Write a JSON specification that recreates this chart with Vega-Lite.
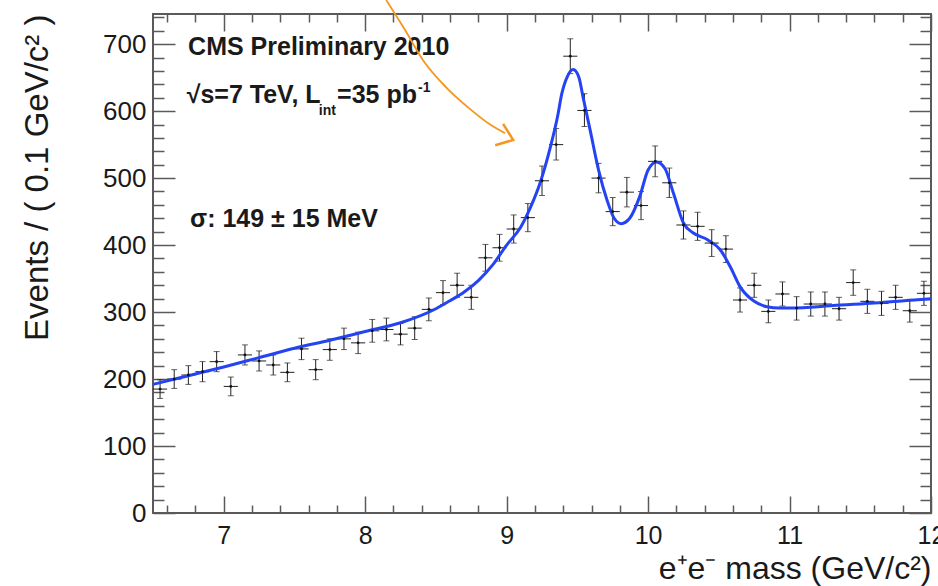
{
  "$schema": "https://vega.github.io/schema/vega-lite/v6.json",
  "width": 778,
  "height": 499,
  "autosize": {"type": "none"},
  "padding": {"left": 153, "top": 14, "right": 7, "bottom": 73},
  "background": "white",
  "config": {
    "view": {"stroke": "#5a5a5a", "strokeWidth": 2},
    "axis": {
      "labelFont": "Liberation Sans",
      "labelFontSize": 26,
      "labelColor": "#1a1a1a",
      "titleFont": "Liberation Sans",
      "titleColor": "#1a1a1a",
      "titleFontWeight": "normal",
      "tickColor": "#5a5a5a",
      "tickWidth": 1.5,
      "domain": false,
      "grid": false,
      "labelOverlap": false,
      "labelFlush": false
    },
    "text": {"font": "Liberation Sans"}
  },
  "datasets": {
    "pts": [
      {"x": 6.55, "y": 185, "lo": 171, "hi": 199, "xlo": 6.5, "xhi": 6.6},
      {"x": 6.65, "y": 200, "lo": 186, "hi": 214, "xlo": 6.6, "xhi": 6.7},
      {"x": 6.75, "y": 206, "lo": 192, "hi": 220, "xlo": 6.7, "xhi": 6.8},
      {"x": 6.85, "y": 211, "lo": 196, "hi": 226, "xlo": 6.8, "xhi": 6.9},
      {"x": 6.95, "y": 226, "lo": 211, "hi": 241, "xlo": 6.9, "xhi": 7.0},
      {"x": 7.05, "y": 189, "lo": 175, "hi": 203, "xlo": 7.0, "xhi": 7.1},
      {"x": 7.15, "y": 236, "lo": 221, "hi": 251, "xlo": 7.1, "xhi": 7.2},
      {"x": 7.25, "y": 227, "lo": 212, "hi": 242, "xlo": 7.2, "xhi": 7.3},
      {"x": 7.35, "y": 221, "lo": 206, "hi": 236, "xlo": 7.3, "xhi": 7.4},
      {"x": 7.45, "y": 210, "lo": 196, "hi": 224, "xlo": 7.4, "xhi": 7.5},
      {"x": 7.55, "y": 245, "lo": 229, "hi": 261, "xlo": 7.5, "xhi": 7.6},
      {"x": 7.65, "y": 214, "lo": 199, "hi": 229, "xlo": 7.6, "xhi": 7.7},
      {"x": 7.75, "y": 244, "lo": 228, "hi": 260, "xlo": 7.7, "xhi": 7.8},
      {"x": 7.85, "y": 260, "lo": 244, "hi": 276, "xlo": 7.8, "xhi": 7.9},
      {"x": 7.95, "y": 254, "lo": 238, "hi": 270, "xlo": 7.9, "xhi": 8.0},
      {"x": 8.05, "y": 272, "lo": 255, "hi": 289, "xlo": 8.0, "xhi": 8.1},
      {"x": 8.15, "y": 274, "lo": 257, "hi": 291, "xlo": 8.1, "xhi": 8.2},
      {"x": 8.25, "y": 267, "lo": 251, "hi": 283, "xlo": 8.2, "xhi": 8.3},
      {"x": 8.35, "y": 276, "lo": 259, "hi": 293, "xlo": 8.3, "xhi": 8.4},
      {"x": 8.45, "y": 304, "lo": 287, "hi": 321, "xlo": 8.4, "xhi": 8.5},
      {"x": 8.55, "y": 329, "lo": 311, "hi": 347, "xlo": 8.5, "xhi": 8.6},
      {"x": 8.65, "y": 340, "lo": 322, "hi": 358, "xlo": 8.6, "xhi": 8.7},
      {"x": 8.75, "y": 322, "lo": 304, "hi": 340, "xlo": 8.7, "xhi": 8.8},
      {"x": 8.85, "y": 381, "lo": 361, "hi": 401, "xlo": 8.8, "xhi": 8.9},
      {"x": 8.95, "y": 396, "lo": 376, "hi": 416, "xlo": 8.9, "xhi": 9.0},
      {"x": 9.05, "y": 424, "lo": 403, "hi": 445, "xlo": 9.0, "xhi": 9.1},
      {"x": 9.15, "y": 441, "lo": 420, "hi": 462, "xlo": 9.1, "xhi": 9.2},
      {"x": 9.25, "y": 496, "lo": 474, "hi": 518, "xlo": 9.2, "xhi": 9.3},
      {"x": 9.35, "y": 550, "lo": 527, "hi": 574, "xlo": 9.3, "xhi": 9.4},
      {"x": 9.45, "y": 682, "lo": 656, "hi": 708, "xlo": 9.4, "xhi": 9.5},
      {"x": 9.55, "y": 601, "lo": 577, "hi": 626, "xlo": 9.5, "xhi": 9.6},
      {"x": 9.65, "y": 500, "lo": 478, "hi": 522, "xlo": 9.6, "xhi": 9.7},
      {"x": 9.75, "y": 450, "lo": 429, "hi": 471, "xlo": 9.7, "xhi": 9.8},
      {"x": 9.85, "y": 479, "lo": 457, "hi": 501, "xlo": 9.8, "xhi": 9.9},
      {"x": 9.95, "y": 459, "lo": 438, "hi": 480, "xlo": 9.9, "xhi": 10.0},
      {"x": 10.05, "y": 525, "lo": 502, "hi": 548, "xlo": 10.0, "xhi": 10.1},
      {"x": 10.15, "y": 493, "lo": 471, "hi": 515, "xlo": 10.1, "xhi": 10.2},
      {"x": 10.25, "y": 430, "lo": 409, "hi": 451, "xlo": 10.2, "xhi": 10.3},
      {"x": 10.35, "y": 428, "lo": 407, "hi": 449, "xlo": 10.3, "xhi": 10.4},
      {"x": 10.45, "y": 403, "lo": 383, "hi": 423, "xlo": 10.4, "xhi": 10.5},
      {"x": 10.55, "y": 394, "lo": 374, "hi": 414, "xlo": 10.5, "xhi": 10.6},
      {"x": 10.65, "y": 318, "lo": 300, "hi": 336, "xlo": 10.6, "xhi": 10.7},
      {"x": 10.75, "y": 340, "lo": 322, "hi": 358, "xlo": 10.7, "xhi": 10.8},
      {"x": 10.85, "y": 301, "lo": 284, "hi": 318, "xlo": 10.8, "xhi": 10.9},
      {"x": 10.95, "y": 327, "lo": 309, "hi": 345, "xlo": 10.9, "xhi": 11.0},
      {"x": 11.05, "y": 306, "lo": 288, "hi": 323, "xlo": 11.0, "xhi": 11.1},
      {"x": 11.15, "y": 312, "lo": 294, "hi": 330, "xlo": 11.1, "xhi": 11.2},
      {"x": 11.25, "y": 312, "lo": 294, "hi": 330, "xlo": 11.2, "xhi": 11.3},
      {"x": 11.35, "y": 305, "lo": 288, "hi": 322, "xlo": 11.3, "xhi": 11.4},
      {"x": 11.45, "y": 344, "lo": 325, "hi": 363, "xlo": 11.4, "xhi": 11.5},
      {"x": 11.55, "y": 316, "lo": 298, "hi": 334, "xlo": 11.5, "xhi": 11.6},
      {"x": 11.65, "y": 313, "lo": 295, "hi": 331, "xlo": 11.6, "xhi": 11.7},
      {"x": 11.75, "y": 322, "lo": 304, "hi": 340, "xlo": 11.7, "xhi": 11.8},
      {"x": 11.85, "y": 302, "lo": 285, "hi": 319, "xlo": 11.8, "xhi": 11.9},
      {"x": 11.95, "y": 328, "lo": 310, "hi": 346, "xlo": 11.9, "xhi": 12.0}
    ],
    "fit": [
      {"x": 6.5, "y": 192}, {"x": 6.75, "y": 205}, {"x": 7.0, "y": 218},
      {"x": 7.25, "y": 232}, {"x": 7.5, "y": 246}, {"x": 7.75, "y": 258},
      {"x": 8.0, "y": 271}, {"x": 8.25, "y": 284}, {"x": 8.5, "y": 305},
      {"x": 8.6, "y": 317}, {"x": 8.7, "y": 330}, {"x": 8.8, "y": 347},
      {"x": 8.9, "y": 370}, {"x": 9.0, "y": 400}, {"x": 9.1, "y": 427},
      {"x": 9.17, "y": 457}, {"x": 9.24, "y": 495}, {"x": 9.31, "y": 547},
      {"x": 9.36, "y": 592}, {"x": 9.39, "y": 626}, {"x": 9.43, "y": 652},
      {"x": 9.47, "y": 662}, {"x": 9.51, "y": 651}, {"x": 9.54, "y": 621},
      {"x": 9.59, "y": 572}, {"x": 9.65, "y": 512}, {"x": 9.71, "y": 467},
      {"x": 9.76, "y": 440}, {"x": 9.81, "y": 432}, {"x": 9.87, "y": 440},
      {"x": 9.94, "y": 472}, {"x": 10.0, "y": 512}, {"x": 10.06, "y": 524},
      {"x": 10.12, "y": 514}, {"x": 10.18, "y": 477}, {"x": 10.25, "y": 433},
      {"x": 10.32, "y": 418}, {"x": 10.42, "y": 408}, {"x": 10.51, "y": 393},
      {"x": 10.58, "y": 368}, {"x": 10.65, "y": 338}, {"x": 10.75, "y": 316},
      {"x": 10.84, "y": 308}, {"x": 10.93, "y": 306}, {"x": 11.0, "y": 306},
      {"x": 11.33, "y": 310}, {"x": 11.57, "y": 313}, {"x": 11.81, "y": 317},
      {"x": 12.0, "y": 320}
    ],
    "arrow": [
      {"part": "shaft", "o": 1, "x": 8.148, "y": 766},
      {"part": "shaft", "o": 2, "x": 8.282, "y": 721},
      {"part": "shaft", "o": 3, "x": 8.409, "y": 676},
      {"part": "shaft", "o": 4, "x": 8.579, "y": 634},
      {"part": "shaft", "o": 5, "x": 8.742, "y": 603},
      {"part": "shaft", "o": 6, "x": 8.883, "y": 580},
      {"part": "shaft", "o": 7, "x": 8.989, "y": 567},
      {"part": "head", "o": 1, "x": 8.975, "y": 581},
      {"part": "head", "o": 2, "x": 9.046, "y": 557},
      {"part": "head", "o": 3, "x": 8.919, "y": 549}
    ],
    "bigtext": [
      {"x": 6.748, "y": 683.5, "t": "CMS Preliminary 2010"},
      {"x": 6.738, "y": 611.5, "t": "√s=7 TeV, L"},
      {"x": 7.801, "y": 611.5, "t": "=35 pb"},
      {"x": 6.762, "y": 427.5, "t": "σ: 149 ± 15 MeV"}
    ],
    "smalltext": [
      {"x": 7.672, "y": 594, "t": "int"},
      {"x": 8.374, "y": 629, "t": "-1"}
    ]
  },
  "resolve": {"axis": {"x": "independent", "y": "independent"}},
  "layer": [
    {
      "data": {"name": "pts"},
      "mark": {"type": "rule", "color": "#222", "strokeWidth": 1},
      "encoding": {
        "x": {"field": "x", "type": "quantitative",
          "scale": {"domain": [6.5, 12], "nice": false, "zero": false},
          "axis": {"orient": "bottom", "values": [7, 8, 9, 10, 11, 12], "ticks": false, "labelPadding": 10,
            "labelFontSize": 25,
            "title": "e⁺e⁻ mass (GeV/c²)", "titleAnchor": "end", "titleAlign": "right", "titleFontSize": 32, "titlePadding": 5}},
        "y": {"field": "lo", "type": "quantitative",
          "scale": {"domain": [0, 745], "nice": false, "zero": false},
          "axis": {"orient": "left", "values": [0, 100, 200, 300, 400, 500, 600, 700], "ticks": false, "labelPadding": 7,
            "title": "Events / ( 0.1 GeV/c² )", "titleAnchor": "end", "titleFontSize": 33, "titlePadding": 48}},
        "y2": {"field": "hi"}
      }
    },
    {
      "data": {"name": "pts"},
      "mark": {"type": "rule", "color": "#222", "strokeWidth": 1},
      "encoding": {
        "x": {"field": "xlo", "type": "quantitative",
          "axis": {"orient": "bottom", "values": [7, 8, 9, 10, 11, 12], "tickSize": -17, "labels": false, "title": null}},
        "x2": {"field": "xhi"},
        "y": {"field": "y", "type": "quantitative",
          "axis": {"orient": "left", "values": [0, 100, 200, 300, 400, 500, 600, 700], "tickSize": -22, "labels": false, "title": null}}
      }
    },
    {
      "data": {"name": "pts"},
      "mark": {"type": "tick", "orient": "horizontal", "color": "#222", "size": 6, "thickness": 1},
      "encoding": {
        "x": {"field": "x", "type": "quantitative",
          "axis": {"orient": "bottom", "values": [6.6, 6.8, 7.2, 7.4, 7.6, 7.8, 8.2, 8.4, 8.6, 8.8, 9.2, 9.4, 9.6, 9.8, 10.2, 10.4, 10.6, 10.8, 11.2, 11.4, 11.6, 11.8], "tickSize": -8, "labels": false, "title": null}},
        "y": {"field": "hi", "type": "quantitative",
          "axis": {"orient": "left", "values": [20, 40, 60, 80, 120, 140, 160, 180, 220, 240, 260, 280, 320, 340, 360, 380, 420, 440, 460, 480, 520, 540, 560, 580, 620, 640, 660, 680, 720, 740], "tickSize": -11, "labels": false, "title": null}}
      }
    },
    {
      "data": {"name": "pts"},
      "mark": {"type": "tick", "orient": "horizontal", "color": "#222", "size": 6, "thickness": 1},
      "encoding": {
        "x": {"field": "x", "type": "quantitative",
          "axis": {"orient": "top", "values": [7, 8, 9, 10, 11, 12], "tickSize": -17, "labels": false, "title": null}},
        "y": {"field": "lo", "type": "quantitative",
          "axis": {"orient": "right", "values": [0, 100, 200, 300, 400, 500, 600, 700], "tickSize": -22, "labels": false, "title": null}}
      }
    },
    {
      "data": {"name": "fit"},
      "mark": {"type": "line", "color": "#2443f2", "strokeWidth": 3, "interpolate": "monotone"},
      "encoding": {
        "x": {"field": "x", "type": "quantitative",
          "axis": {"orient": "top", "values": [6.6, 6.8, 7.2, 7.4, 7.6, 7.8, 8.2, 8.4, 8.6, 8.8, 9.2, 9.4, 9.6, 9.8, 10.2, 10.4, 10.6, 10.8, 11.2, 11.4, 11.6, 11.8], "tickSize": -8, "labels": false, "title": null}},
        "y": {"field": "y", "type": "quantitative",
          "axis": {"orient": "right", "values": [20, 40, 60, 80, 120, 140, 160, 180, 220, 240, 260, 280, 320, 340, 360, 380, 420, 440, 460, 480, 520, 540, 560, 580, 620, 640, 660, 680, 720, 740], "tickSize": -11, "labels": false, "title": null}}
      }
    },
    {
      "data": {"name": "pts"},
      "mark": {"type": "point", "filled": true, "color": "#111", "size": 8, "opacity": 1},
      "encoding": {
        "x": {"field": "x", "type": "quantitative", "axis": null},
        "y": {"field": "y", "type": "quantitative", "axis": null}
      }
    },
    {
      "data": {"name": "bigtext"},
      "mark": {"type": "text", "align": "left", "baseline": "alphabetic", "fontSize": 25, "fontWeight": "bold", "color": "#1a1a1a"},
      "encoding": {
        "x": {"field": "x", "type": "quantitative", "axis": null},
        "y": {"field": "y", "type": "quantitative", "axis": null},
        "text": {"field": "t"}
      }
    },
    {
      "data": {"name": "smalltext"},
      "mark": {"type": "text", "align": "left", "baseline": "alphabetic", "fontSize": 14, "fontWeight": "bold", "color": "#1a1a1a"},
      "encoding": {
        "x": {"field": "x", "type": "quantitative", "axis": null},
        "y": {"field": "y", "type": "quantitative", "axis": null},
        "text": {"field": "t"}
      }
    },
    {
      "data": {"name": "arrow"},
      "mark": {"type": "line", "color": "#f5961e", "strokeWidth": 1.8, "interpolate": "monotone", "clip": false},
      "transform": [{"filter": "datum.part === 'shaft'"}],
      "encoding": {
        "x": {"field": "x", "type": "quantitative", "axis": null},
        "y": {"field": "y", "type": "quantitative", "axis": null},
        "order": {"field": "o"}
      }
    },
    {
      "data": {"name": "arrow"},
      "mark": {"type": "line", "color": "#f5961e", "strokeWidth": 2.5, "clip": false},
      "transform": [{"filter": "datum.part === 'head'"}],
      "encoding": {
        "x": {"field": "x", "type": "quantitative", "axis": null},
        "y": {"field": "y", "type": "quantitative", "axis": null},
        "order": {"field": "o"}
      }
    }
  ]
}
